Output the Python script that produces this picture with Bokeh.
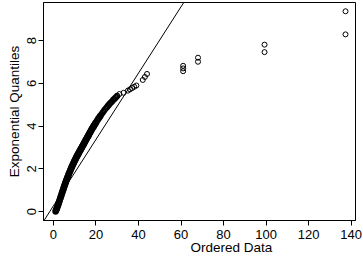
from bokeh.plotting import figure
from bokeh.models import FixedTicker, Slope, Title
from bokeh.embed import file_html
from bokeh.resources import INLINE

# Lower dense part of the QQ plot (heavily over-plotted): ordered data and exponential quantiles
dense_x = [1.0, 1.25, 1.5, 1.75, 2.0, 2.25, 2.5, 2.75, 3.0, 3.25, 3.5, 3.75,
           4.0, 4.25, 4.5, 4.75, 5.0, 5.25, 5.5, 5.75, 6.0, 6.25, 6.5, 6.75,
           7.0, 7.25, 7.5, 7.75, 8.0, 8.25, 8.5, 8.75, 9.0, 9.25, 9.5, 9.75,
           10.0, 10.25, 10.5, 10.75, 11.0, 11.25, 11.5, 11.75, 12.0, 12.25, 12.5, 12.75,
           13.0, 13.25, 13.5, 13.75, 14.0, 14.25, 14.5, 14.75, 15.0, 15.25, 15.5, 15.75,
           16.0, 16.25, 16.5, 16.75, 17.0, 17.25, 17.5, 17.75, 18.0, 18.25, 18.5, 18.75,
           19.0, 19.25, 19.5, 19.75, 20.0, 20.5, 21.0, 21.5, 22.0]
dense_y = [0.02, 0.08, 0.14, 0.20, 0.27, 0.34, 0.42, 0.49, 0.57, 0.64, 0.72, 0.79,
           0.87, 0.94, 1.02, 1.09, 1.17, 1.24, 1.31, 1.38, 1.45, 1.51, 1.58, 1.64,
           1.71, 1.77, 1.83, 1.89, 1.95, 2.01, 2.07, 2.12, 2.18, 2.23, 2.29, 2.34,
           2.39, 2.44, 2.49, 2.54, 2.59, 2.63, 2.68, 2.72, 2.77, 2.81, 2.86, 2.90,
           2.95, 2.99, 3.04, 3.08, 3.13, 3.17, 3.22, 3.26, 3.31, 3.35, 3.40, 3.44,
           3.49, 3.53, 3.58, 3.62, 3.67, 3.71, 3.76, 3.80, 3.85, 3.89, 3.93, 3.97,
           4.01, 4.05, 4.09, 4.13, 4.17, 4.25, 4.33, 4.40, 4.47]

# Upper part of the band, where single circles start to show
upper_x = [22.5, 23.0, 23.5, 24.0, 24.5, 25.0, 25.5, 26.0, 26.5, 27.0, 27.5,
           28.0, 28.5, 29.0, 29.5, 30.0]
upper_y = [4.54, 4.61, 4.68, 4.75, 4.81, 4.87, 4.93, 4.99, 5.05, 5.10, 5.15,
           5.21, 5.26, 5.31, 5.36, 5.41]

# Upper tail: individual points
tail_x = [31, 33, 35, 36, 37, 38, 39, 42, 43, 44, 61, 61, 61, 68, 68, 99.3, 99.3, 137.4, 137.4]
tail_y = [5.50, 5.56, 5.66, 5.72, 5.78, 5.84, 5.90, 6.16, 6.30, 6.44,
          6.57, 6.70, 6.82, 7.01, 7.20, 7.46, 7.81, 8.29, 9.37]

x_ticks = [0, 20, 40, 60, 80, 100, 120, 140]
y_ticks = [0, 2, 4, 6, 8]

ref_slope = 0.155
ref_intercept = 0.28

FONT = "Liberation Sans"

p = figure(width=363, height=259, x_range=(-4.7, 142.1), y_range=(-0.41, 9.78),
           output_backend="svg", toolbar_location=None,
           min_border_left=43, min_border_right=8, min_border_top=2, min_border_bottom=39)

p.background_fill_color = "white"
p.border_fill_color = "white"
p.outline_line_color = "black"
p.outline_line_width = 1
p.xgrid.visible = False
p.ygrid.visible = False

for ax in (p.xaxis[0], p.yaxis[0]):
    ax.major_tick_out = 5
    ax.major_tick_in = 0
    ax.minor_tick_out = 0
    ax.minor_tick_in = 0
    ax.axis_line_color = "black"
    ax.major_tick_line_color = "black"
    ax.major_label_text_font = FONT
    ax.major_label_text_font_size = "13px"
    ax.major_label_text_color = "black"
    ax.axis_label_text_font = FONT
    ax.axis_label_text_font_size = "13.5px"
    ax.axis_label_text_font_style = "normal"
    ax.axis_label_text_color = "black"

p.xaxis[0].ticker = FixedTicker(ticks=x_ticks)
p.yaxis[0].ticker = FixedTicker(ticks=y_ticks)
p.xaxis[0].major_label_standoff = 4
p.yaxis[0].major_label_standoff = 2
p.yaxis[0].major_label_orientation = "vertical"
p.yaxis[0].axis_label = "Exponential Quantiles"
p.yaxis[0].axis_label_standoff = 3

p.add_layout(Slope(gradient=ref_slope, y_intercept=ref_intercept,
                   line_color="black", line_width=1))

p.scatter(dense_x, dense_y, marker="circle", size=5, fill_color=None,
          line_color="black", line_width=1.7)
p.scatter(upper_x, upper_y, marker="circle", size=5, fill_color=None,
          line_color="black", line_width=1.3)
p.scatter(tail_x, tail_y, marker="circle", size=5, fill_color=None,
          line_color="black", line_width=1)

p.add_layout(Title(text="Ordered Data", align="left", offset=147, standoff=-8,
                   text_font=FONT, text_font_size="13.5px", text_font_style="normal",
                   text_color="black"), "below")

open("out.html", "w").write(file_html(p, INLINE))
